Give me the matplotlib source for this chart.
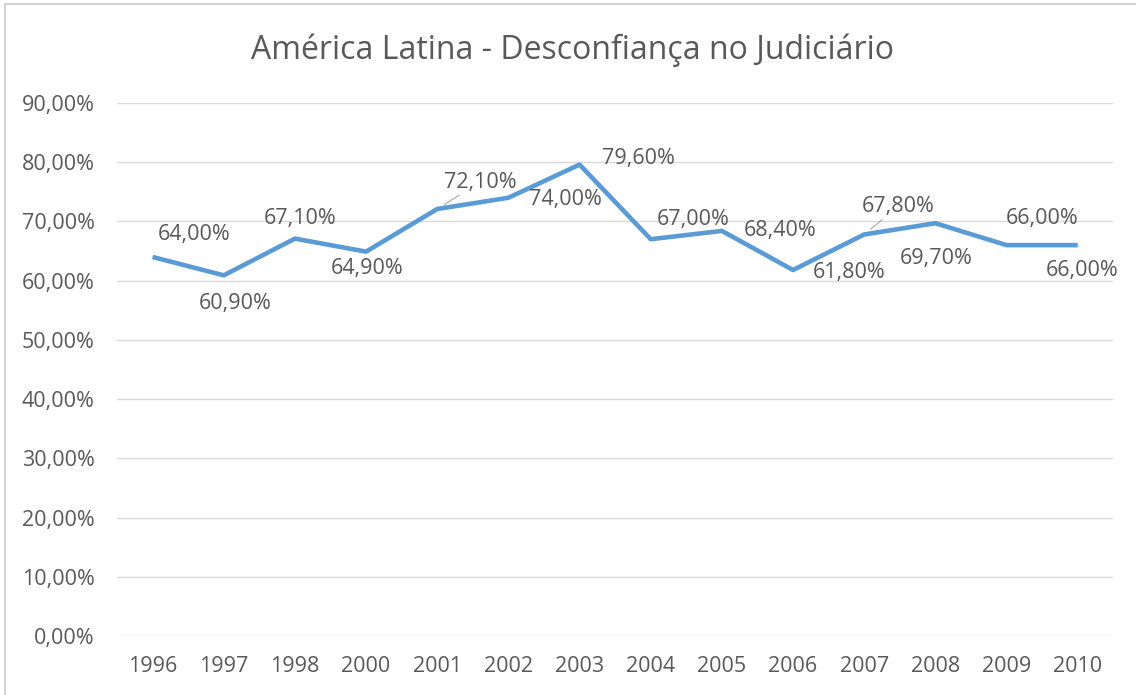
import matplotlib.pyplot as plt
from matplotlib.lines import Line2D
from matplotlib.ticker import FuncFormatter

years = ["1996", "1997", "1998", "2000", "2001", "2002", "2003",
         "2004", "2005", "2006", "2007", "2008", "2009", "2010"]
distrust = [64.0, 60.9, 67.1, 64.9, 72.1, 74.0, 79.6,
            67.0, 68.4, 61.8, 67.8, 69.7, 66.0, 66.0]

# label offsets from each point, in pixels (dx, dy)
label_offsets = [(42, 22), (11, -28), (5, 20), (1, -17), (43, 27), (57, -2),
                 (59, 6), (42, 20), (58, 0), (56, -2), (34, 28), (1, -35),
                 (36, 27), (4, -25)]
leaders = {4, 10}

TEXT = "#595959"
LINE = "#5B9BD5"
GRID = "#D9D9D9"


def pct(v, _pos=None):
    return f"{v:.2f}%".replace(".", ",")


def main():
    plt.rcParams['font.family'] = ['Open Sans', 'DejaVu Sans']
    fig = plt.figure(figsize=(11.36, 6.95), dpi=100)
    ax = fig.add_axes([0.103, 0.0849, 0.877, 0.7669])

    x = list(range(len(years)))
    ax.plot(x, distrust, color=LINE, lw=3.3, solid_capstyle='butt', zorder=3)

    for i, (v, (dx, dy)) in enumerate(zip(distrust, label_offsets)):
        props = None
        if i in leaders:
            props = dict(arrowstyle='-', color='#A6A6A6', lw=0.8,
                         shrinkA=0, shrinkB=6)
        ax.annotate(pct(v), xy=(i, v), xytext=(dx, dy),
                    textcoords='offset pixels', ha='center', va='center',
                    fontsize=15.5, color=TEXT, arrowprops=props, zorder=4)

    ax.set_xlim(-0.5, len(years) - 0.5)
    ax.set_ylim(0, 90)
    ax.set_yticks(range(0, 91, 10))
    ax.yaxis.set_major_formatter(FuncFormatter(pct))
    ax.set_xticks(x)
    ax.set_xticklabels(years)
    ax.grid(axis='y', color=GRID, lw=1)
    ax.set_axisbelow(True)
    for s in ax.spines.values():
        s.set_visible(False)
    ax.tick_params(length=0, labelsize=15.5, colors=TEXT)
    ax.tick_params(axis='y', pad=16)
    ax.tick_params(axis='x', pad=14.5)

    fig.text(0.504, 0.928, "América Latina - Desconfiança no Judiciário",
             ha='center', va='center', fontsize=23, color=TEXT)

    # chart frame (top and left edges visible)
    fig.add_artist(Line2D([0.0044, 1], [0.9942, 0.9942], color='#C8C8C8', lw=1.2))
    fig.add_artist(Line2D([0.0044, 0.0044], [0, 0.9942], color='#C8C8C8', lw=1.2))

    png = "out.png"
    fig.savefig(png, dpi=100)
    print(f"plot saved as {png}")


if __name__ == "__main__":
    main()
